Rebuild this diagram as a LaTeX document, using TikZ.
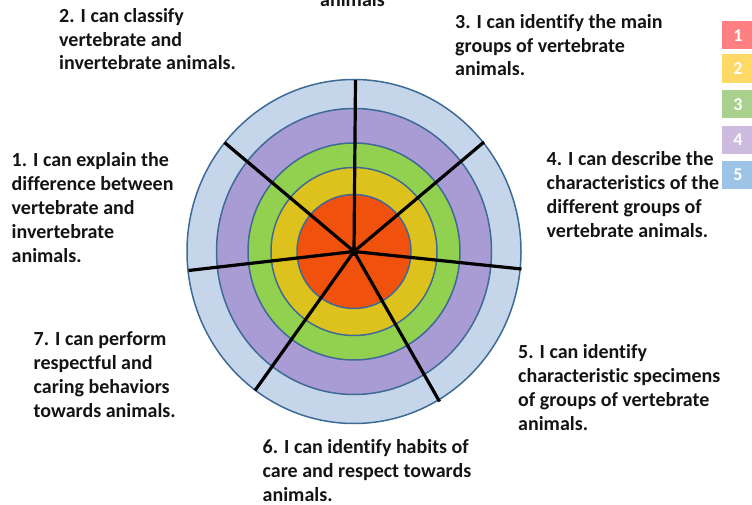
\documentclass[tikz,border=0pt]{standalone}
\usepackage{fontspec}
\setmainfont{Carlito}[Ligatures=NoCommon]
\definecolor{ringline}{HTML}{3E6A96}
\definecolor{ringfive}{HTML}{C5D6EA}
\definecolor{ringfour}{HTML}{A99BD3}
\definecolor{ringthree}{HTML}{92D050}
\definecolor{ringtwo}{HTML}{DDC21E}
\definecolor{ringone}{HTML}{F0510C}
\definecolor{tagone}{HTML}{FF8082}
\definecolor{tagtwo}{HTML}{FFD966}
\definecolor{tagthree}{HTML}{A9D18E}
\definecolor{tagfour}{HTML}{CDBCE0}
\definecolor{tagfive}{HTML}{9DC3E6}
\begin{document}
\begin{tikzpicture}[x=1pt,y=-1pt,
  goal/.style={anchor=base west, inner sep=0pt, align=left,
    font=\fontsize{20}{23.8}\selectfont\bfseries, text=black!92},
  ring/.style={draw=ringline, line width=1.5pt},
  spoke/.style={line width=3.2pt, black},
  tag/.style={minimum width=32pt, minimum height=28.3pt, inner sep=0pt,
    text=white, font=\fontsize{18}{18}\selectfont\bfseries}]
\useasboundingbox (0,0) rectangle (752,505);
\fill[white] (0,0) rectangle (752,505);

% target rings, outermost first
\coordinate (c) at (354,251.5);
\draw[ring, fill=ringfive]  (c) ellipse [x radius=167,   y radius=172];
\draw[ring, fill=ringfour]  (c) ellipse [x radius=137.5, y radius=143];
\draw[ring, fill=ringthree] (c) ellipse [x radius=106,   y radius=108.5];
\draw[ring, fill=ringtwo]   (c) ellipse [x radius=83,    y radius=84];
\draw[ring, fill=ringone]   (c) ellipse [x radius=57,    y radius=57];

% sector dividers
\coordinate (s1) at (355.5,80);
\coordinate (s2) at (484,142);
\coordinate (s3) at (521.5,269);
\coordinate (s4) at (439.5,401.5);
\coordinate (s5) at (255,390.5);
\coordinate (s6) at (188.5,270.5);
\coordinate (s7) at (224.5,142.5);
\foreach \s in {s1,s2,s3,s4,s5,s6,s7}
  \draw[spoke] (c) -- (\s);
\fill[black] (c) circle [radius=4.5];

% goal statements (anchored on the baseline of their last line)
\node[goal] (top) at (320,7) {animals};
\node[goal] (g1) at (11.5,262) {1. I can explain the\\difference between\\vertebrate and\\invertebrate\\animals.};
\node[goal] (g2) at (59,70) {2. I can classify\\vertebrate and\\invertebrate animals.};
\node[goal] (g3) at (455,76) {3. I can identify the main\\groups of vertebrate\\animals.};
\node[goal] (g4) at (546.5,237.3) {4. I can describe the\\characteristics of the\\different groups of\\vertebrate animals.};
\node[goal] (g5) at (518,430) {5. I can identify\\characteristic specimens\\of groups of vertebrate\\animals.};
\node[goal] (g6) at (262.5,501) {6. I can identify habits of\\care and respect towards\\animals.};
\node[goal] (g7) at (33.5,417.3) {7. I can perform\\respectful and\\caring behaviors\\towards animals.};

% level key
\node[tag, fill=tagone]   (k1) at (738,35.2)  {1};
\node[tag, fill=tagtwo]   (k2) at (738,68.5)  {2};
\node[tag, fill=tagthree] (k3) at (738,104.2) {3};
\node[tag, fill=tagfour]  (k4) at (738,140)   {4};
\node[tag, fill=tagfive]  (k5) at (738,175.2) {5};
\end{tikzpicture}
\end{document}
